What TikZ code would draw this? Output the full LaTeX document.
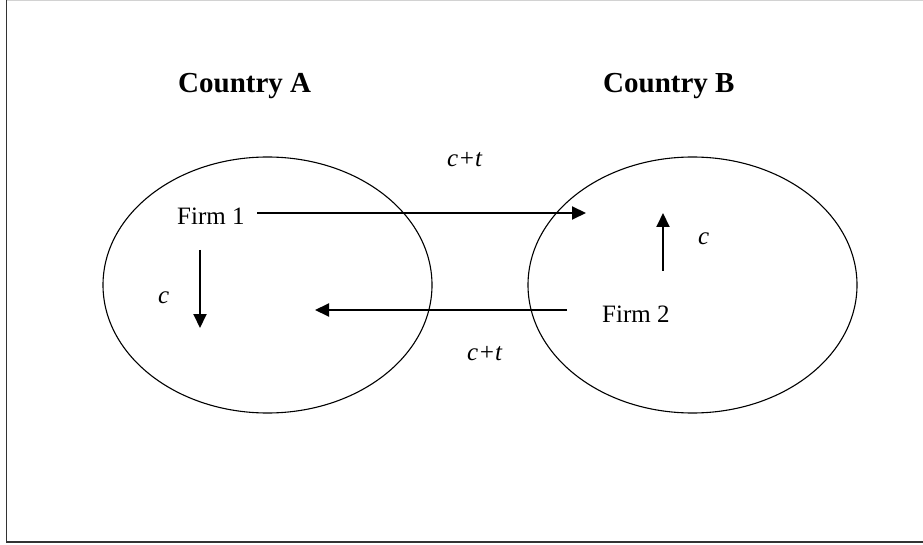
\documentclass[tikz,border=0pt]{standalone}
\usepackage{fontspec}
\setmainfont{Liberation Serif}
\usetikzlibrary{arrows.meta,shapes.geometric}

\begin{document}
\begin{tikzpicture}[
  x=1pt, y=-1pt,
  country/.style={draw, ellipse, line width=1.1pt, minimum width=329pt, minimum height=256pt, inner sep=0pt},
  title/.style={anchor=base west, inner sep=0pt, font=\fontsize{29}{34}\selectfont\bfseries},
  firm/.style={anchor=base west, inner sep=0pt, font=\fontsize{25}{30}\selectfont},
  cost/.style={anchor=base west, inner sep=0pt, font=\fontsize{25}{30}\selectfont\itshape},
  arr/.style={-{Triangle[length=14pt, width=13pt]}, line width=2pt}
]
  \useasboundingbox (0,0) rectangle (923,545);
  % frame
  \draw[gray!35, line width=1pt] (6.5,0.8) -- (923,0.8);
  \draw[black!80, line width=1.6pt] (6.5,0.5) -- (6.5,541.8) -- (923,541.8);

  \node[country] (ellA) at (267.5,285) {};
  \node[country] (ellB) at (692.5,285) {};

  \node[title] (ctryA) at (178,93) {Country A};
  \node[title] (ctryB) at (603,93) {Country B};

  \node[firm] (firm1) at (177,225) {Firm 1};
  \node[firm] (firm2) at (602,322) {Firm 2};

  \node[cost] (ctop) at (447,167) {c+t};
  \node[cost] (cbot) at (467,360) {c+t};
  \node[cost] (cA) at (158,303) {c};
  \node[cost] (cB) at (698,245) {c};

  \coordinate (exp1s) at (257,213);
  \coordinate (exp1e) at (586,213);
  \coordinate (exp2s) at (567,310);
  \coordinate (exp2e) at (315,310);
  \coordinate (homeAs) at (200,250);
  \coordinate (homeAe) at (200,328);
  \coordinate (homeBs) at (663,271);
  \coordinate (homeBe) at (663,213);

  \draw[arr] (exp1s) -- (exp1e);
  \draw[arr] (exp2s) -- (exp2e);
  \draw[arr] (homeAs) -- (homeAe);
  \draw[arr] (homeBs) -- (homeBe);
\end{tikzpicture}
\end{document}
